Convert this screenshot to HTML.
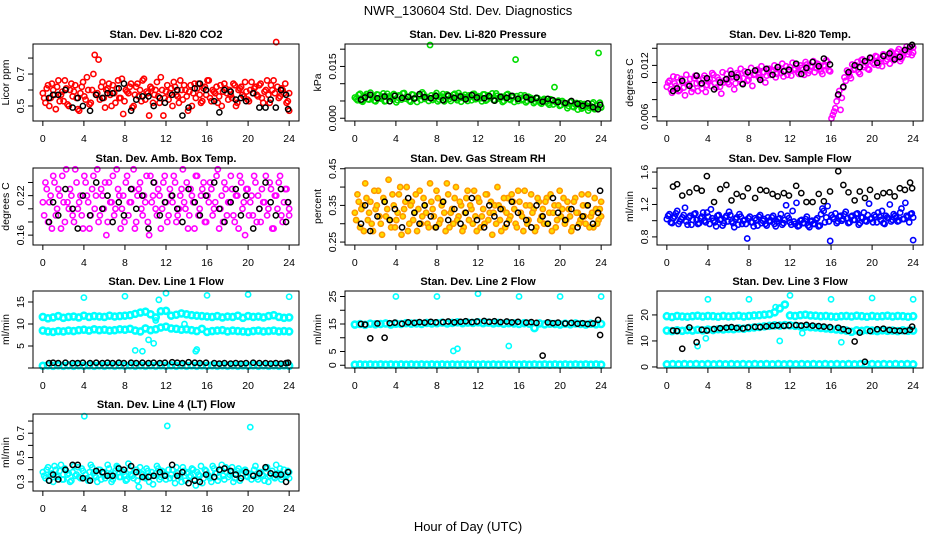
<!DOCTYPE html>
<html><head><meta charset="utf-8">
<style>
html,body{margin:0;padding:0;background:#fff;}
svg{display:block;font-family:"Liberation Sans",Arial,sans-serif;}
</style></head>
<body>
<svg id="chart" width="936" height="540" viewBox="0 0 936 540">
<text x="468" y="15" text-anchor="middle" font-size="13">NWR_130604  Std. Dev. Diagnostics</text>
<text x="468" y="531" text-anchor="middle" font-size="13">Hour of Day (UTC)</text>
</svg>
<script>
const blackHours=[0.6,1.0,1.5,2.2,2.9,3.4,3.9,4.6,5.2,5.8,6.3,6.8,7.4,7.9,8.6,9.1,9.7,10.3,10.8,11.4,11.9,12.6,13.1,13.6,14.2,14.8,15.3,15.9,16.7,17.2,17.7,18.3,18.8,19.3,19.8,20.5,21.1,21.7,22.2,22.7,23.2,23.7,23.9];
const xTicks=[0,4,8,12,16,20,24];

const co2A=[0.58,0.52,0.63,0.55,0.60,0.48,0.66,0.57,0.53,0.61,0.50,0.64,0.59,0.55,0.47,0.62,0.56,0.68,0.51,0.60,0.82,0.58,0.54,0.65,0.49,0.61,0.57,0.63,0.52,0.66,0.55,0.45,0.60,0.58,0.64,0.50,0.62,0.56,0.53,0.67,0.59,0.44,0.61,0.57,0.65,0.52,0.60,0.55,0.63,0.58,0.50,0.62,0.56,0.66,0.54,0.60,0.47,0.63,0.58,0.55,0.64,0.52,0.61,0.57,0.66,0.53,0.59,0.62,0.56,0.50,0.64,0.58,0.60,0.55,0.63,0.52,0.61,0.57,0.65,0.54,0.60,0.58,0.62,0.56,0.64,0.52,0.60,0.57,0.63,0.66,0.90,0.55,0.61,0.58,0.52,0.47];
const co2B=[0.55,0.61,0.50,0.64,0.57,0.62,0.53,0.59,0.66,0.51,0.60,0.56,0.63,0.48,0.58,0.65,0.54,0.60,0.52,0.70,0.57,0.79,0.62,0.55,0.60,0.64,0.50,0.58,0.61,0.55,0.67,0.53,0.59,0.62,0.49,0.57,0.64,0.60,0.66,0.54,0.58,0.62,0.52,0.60,0.56,0.68,0.44,0.59,0.54,0.61,0.65,0.57,0.52,0.60,0.63,0.56,0.59,0.50,0.64,0.61,0.57,0.53,0.62,0.66,0.55,0.60,0.58,0.52,0.63,0.59,0.61,0.54,0.57,0.64,0.50,0.60,0.62,0.56,0.59,0.53,0.65,0.61,0.57,0.63,0.55,0.59,0.66,0.52,0.60,0.58,0.62,0.56,0.60,0.64,0.53,0.58];
const co2Black=[0.55,0.57,0.57,0.60,0.49,0.55,0.50,0.47,0.57,0.55,0.58,0.58,0.61,0.64,0.47,0.54,0.56,0.56,0.50,0.55,0.52,0.57,0.60,0.44,0.49,0.61,0.64,0.60,0.53,0.46,0.60,0.59,0.54,0.55,0.53,0.58,0.49,0.49,0.54,0.49,0.60,0.57,0.48];

const presGreen=[6.0,5.2,7.1,4.8,6.5,5.5,7.4,6.1,4.9,6.8,5.7,7.2,5.0,6.3,5.9,7.0,4.6,6.6,5.4,7.3,6.2,5.1,6.9,5.8,4.7,6.4,7.5,5.6,6.0,21.2,5.3,6.7,4.9,6.1,7.0,5.5,6.4,5.0,6.8,5.7,7.3,4.8,6.2,5.9,6.6,5.2,7.1,5.6,6.3,4.9,6.9,5.4,6.0,7.2,5.1,6.5,5.8,4.7,6.1,7.0,5.3,6.4,17.0,5.0,6.7,5.5,4.6,6.2,5.8,4.4,5.9,5.0,4.2,5.6,4.8,3.9,5.3,9.0,4.5,3.6,5.0,4.1,2.9,4.7,3.4,4.0,2.5,4.3,3.1,3.8,2.2,3.5,4.6,2.8,18.9,3.3];
const presGreen2=[5.6,6.8,5.0,6.2,7.0,5.4,6.6,5.1,6.9,5.8,6.3,4.9,7.1,6.0,5.5,6.7,5.2,6.4,7.2,5.7,6.1,4.8,6.8,5.9,6.5,5.3,7.0,6.2,5.0,6.6,5.8,7.3,5.4,6.3,4.9,6.9,5.6,6.1,7.1,5.2,6.5,5.9,6.8,5.0,6.2,7.0,5.5,6.4,5.8,6.9,5.1,6.6,6.0,5.3,7.2,5.7,6.3,5.0,6.8,5.5,6.1,4.7,6.4,5.9,5.2,6.6,5.0,6.0,5.4,4.8,5.8,4.5,5.3,4.9,4.3,5.5,4.0,4.7,5.1,3.8,4.6,4.2,3.5,4.9,3.2,4.4,3.9,2.8,4.1,3.6,3.0,4.2,2.6,3.7,4.5,3.1];
const presBlack=[5.4,6.0,6.8,5.8,6.3,4.9,6.5,5.9,6.2,5.7,7.0,6.1,5.8,6.4,5.2,6.6,5.9,6.3,5.5,6.7,6.0,5.8,6.4,5.1,6.2,5.9,6.5,5.6,6.1,5.4,5.9,4.8,5.6,5.2,4.7,4.4,5.0,4.2,3.6,4.3,3.2,2.6,3.9];

const tempMag=[9.5,10.2,8.8,9.9,10.6,9.1,10.0,8.5,9.7,10.4,9.3,10.8,9.0,9.8,10.5,8.9,10.1,9.6,10.9,9.4,10.3,8.7,10.0,11.0,9.8,10.6,9.2,11.1,10.4,9.9,11.3,10.2,10.8,9.6,11.0,11.5,10.5,11.2,10.0,11.6,10.9,11.4,10.6,11.8,11.1,10.7,11.9,11.3,10.8,11.5,12.0,11.0,11.7,10.9,12.1,11.4,11.8,11.2,12.2,11.6,11.0,11.9,12.4,11.3,6.2,7.0,8.5,6.8,9.4,10.2,11.0,10.5,11.5,12.0,11.2,12.6,11.8,12.3,11.5,12.8,12.1,13.0,12.4,11.9,13.2,12.7,12.2,13.4,12.9,13.6,12.5,13.1,13.8,13.3,14.0,13.5];
const tempMag2=[10.0,9.2,10.7,9.6,9.0,10.4,9.4,10.9,9.8,8.9,10.5,9.9,10.2,9.3,10.8,9.7,10.4,11.1,9.9,10.6,9.5,11.2,10.3,10.0,11.4,10.7,9.9,10.9,11.6,10.5,11.0,10.3,11.7,10.9,11.4,10.6,11.9,11.2,10.8,11.6,11.3,12.0,11.0,11.5,12.2,11.4,10.9,11.8,12.3,11.6,11.2,12.0,11.5,12.4,11.1,11.9,12.5,11.7,12.1,11.3,12.0,12.6,11.4,5.8,6.6,7.8,9.0,8.2,10.6,11.4,10.8,12.1,11.6,12.4,11.0,12.7,12.0,11.6,12.9,12.3,13.1,12.0,12.8,13.3,12.5,13.0,13.6,12.6,13.4,13.9,12.8,13.5,14.2,13.6,13.2,14.1];
const tempBlack=[9.0,9.3,10.2,9.6,10.8,9.9,10.5,9.2,10.0,10.4,11.0,10.6,9.8,11.2,11.4,10.3,11.6,10.9,11.8,11.3,11.5,12.2,11.0,11.7,12.4,11.9,12.8,12.1,8.6,9.5,11.2,12.0,11.8,12.5,12.9,12.3,13.1,13.4,12.7,13.0,13.8,14.2,14.4];

const ambMag=[0.21,0.24,0.18,0.22,0.25,0.19,0.23,0.17,0.21,0.26,0.20,0.22,0.18,0.24,0.21,0.19,0.25,0.22,0.17,0.23,0.20,0.26,0.19,0.22,0.24,0.18,0.21,0.25,0.20,0.23,0.17,0.22,0.24,0.19,0.21,0.26,0.18,0.23,0.20,0.22,0.25,0.16,0.21,0.24,0.19,0.22,0.20,0.25,0.18,0.23,0.21,0.24,0.19,0.22,0.26,0.20,0.17,0.23,0.21,0.25,0.19,0.22,0.24,0.18,0.21,0.23,0.20,0.25,0.17,0.22,0.24,0.19,0.21,0.23,0.18,0.22,0.25,0.20,0.16,0.23,0.21,0.19,0.24,0.22,0.18,0.21,0.25,0.20,0.23,0.17,0.22,0.24,0.19,0.21,0.23,0.20];
const ambMag2=[0.19,0.23,0.21,0.17,0.24,0.20,0.22,0.25,0.18,0.21,0.23,0.19,0.26,0.20,0.22,0.17,0.24,0.21,0.19,0.25,0.22,0.18,0.23,0.20,0.16,0.24,0.21,0.19,0.26,0.22,0.20,0.18,0.25,0.21,0.23,0.17,0.22,0.24,0.19,0.21,0.18,0.25,0.22,0.20,0.23,0.17,0.24,0.21,0.19,0.22,0.25,0.18,0.20,0.23,0.21,0.24,0.19,0.22,0.17,0.25,0.20,0.23,0.18,0.22,0.24,0.19,0.21,0.26,0.20,0.18,0.23,0.21,0.25,0.19,0.22,0.17,0.24,0.21,0.23,0.19,0.22,0.25,0.18,0.20,0.23,0.21,0.19,0.24,0.17,0.22,0.20,0.25,0.18,0.23,0.21,0.19];
const ambBlack=[0.18,0.21,0.19,0.23,0.20,0.17,0.22,0.19,0.24,0.20,0.22,0.18,0.21,0.19,0.23,0.20,0.22,0.17,0.24,0.19,0.21,0.22,0.20,0.18,0.23,0.21,0.19,0.22,0.24,0.20,0.18,0.21,0.23,0.19,0.22,0.17,0.20,0.24,0.21,0.19,0.23,0.18,0.21];

const rhOrange=[0.33,0.38,0.29,0.35,0.41,0.31,0.36,0.28,0.34,0.39,0.30,0.37,0.32,0.42,0.29,0.35,0.31,0.38,0.27,0.34,0.40,0.30,0.36,0.33,0.28,0.39,0.32,0.35,0.30,0.41,0.34,0.29,0.37,0.31,0.36,0.28,0.38,0.33,0.30,0.40,0.32,0.35,0.29,0.37,0.31,0.34,0.39,0.28,0.36,0.32,0.30,0.38,0.33,0.27,0.35,0.40,0.31,0.34,0.29,0.37,0.32,0.36,0.30,0.39,0.33,0.28,0.35,0.31,0.38,0.34,0.29,0.36,0.32,0.30,0.37,0.33,0.28,0.35,0.31,0.39,0.34,0.30,0.36,0.32,0.29,0.37,0.33,0.31,0.35,0.30,0.38,0.32,0.29,0.34,0.31,0.36];
const rhOrange2=[0.31,0.36,0.34,0.28,0.37,0.33,0.30,0.39,0.35,0.32,0.27,0.36,0.34,0.31,0.38,0.29,0.33,0.40,0.32,0.36,0.28,0.35,0.31,0.38,0.34,0.30,0.37,0.33,0.29,0.36,0.32,0.39,0.30,0.35,0.33,0.41,0.29,0.34,0.37,0.31,0.36,0.28,0.33,0.39,0.35,0.30,0.32,0.37,0.29,0.34,0.38,0.31,0.36,0.33,0.30,0.35,0.28,0.37,0.33,0.31,0.38,0.34,0.29,0.36,0.32,0.39,0.30,0.35,0.33,0.28,0.37,0.31,0.34,0.36,0.30,0.38,0.33,0.29,0.35,0.32,0.37,0.31,0.34,0.28,0.36,0.33,0.30,0.38,0.32,0.35,0.29,0.33,0.37,0.30,0.34,0.32];
const rhBlack=[0.30,0.35,0.28,0.32,0.36,0.31,0.34,0.29,0.37,0.33,0.30,0.35,0.32,0.29,0.36,0.31,0.34,0.30,0.33,0.37,0.31,0.29,0.35,0.32,0.34,0.30,0.36,0.33,0.31,0.29,0.35,0.32,0.30,0.37,0.33,0.31,0.34,0.29,0.32,0.35,0.30,0.33,0.39];

const flowBlue=[1.02,1.08,0.97,1.05,1.12,0.99,1.04,1.16,0.95,1.06,1.01,1.09,0.96,1.03,1.10,0.98,1.05,1.14,1.00,0.93,1.07,1.02,0.97,1.06,1.11,0.99,0.92,1.04,1.08,0.96,1.01,0.78,1.05,0.98,1.03,0.94,1.07,1.00,0.96,1.04,0.99,1.06,0.93,1.02,1.08,0.97,1.19,1.03,0.95,0.99,1.22,0.94,1.01,0.97,1.05,0.92,1.00,0.96,1.03,0.94,1.15,0.98,1.18,0.75,1.04,1.09,0.99,1.06,1.02,1.11,0.97,1.05,1.01,1.08,0.95,1.04,1.10,0.99,1.21,1.03,1.07,0.98,1.05,1.12,0.96,1.04,1.20,1.01,1.06,0.99,1.10,1.02,1.22,1.05,1.08,0.76];
const flowBlue2=[1.06,0.98,1.03,1.09,0.96,1.02,1.07,0.99,1.04,0.95,1.08,1.01,0.97,1.05,1.00,1.10,0.96,1.03,0.98,1.06,1.01,0.94,1.04,0.99,1.07,0.97,1.02,0.95,1.05,1.00,0.96,1.03,0.98,0.93,1.01,1.05,0.97,1.02,0.94,1.00,1.04,0.96,0.99,1.03,0.95,1.01,1.06,0.98,1.12,0.96,0.93,1.00,0.97,1.02,0.94,0.99,0.96,1.01,0.93,1.08,1.12,1.04,0.99,1.07,1.02,0.97,1.05,1.00,1.08,1.03,0.98,1.06,1.01,1.09,0.97,1.04,1.00,1.07,1.02,0.98,1.05,1.10,1.01,0.97,1.06,1.03,0.99,1.08,1.04,1.00,1.15,1.02,1.06,0.98,1.09,1.04];
const flowBlack=[1.42,1.45,1.31,1.35,1.40,1.37,1.55,1.23,1.39,1.44,1.25,1.33,1.30,1.40,1.28,1.38,1.37,1.33,1.30,1.34,1.31,1.43,1.34,1.23,1.23,1.33,1.24,1.36,1.61,1.44,1.35,1.25,1.36,1.28,1.38,1.30,1.34,1.35,1.30,1.40,1.38,1.47,1.40];

const l1Hi=[11.6,11.3,11.5,11.8,11.4,11.6,11.7,11.5,11.9,11.6,11.8,11.7,11.6,11.9,11.7,11.8,11.9,12.0,12.3,12.6,12.8,12.2,11.5,12.9,13.0,11.9,12.1,12.4,12.2,12.0,11.9,11.8,11.7,11.6,11.8,11.5,11.7,11.6,11.9,11.4,11.8,11.6,11.7,11.5,11.8,12.0,11.6,11.4,11.5];
const l1Lo=[8.5,8.3,8.2,8.4,8.3,8.5,8.4,8.6,8.7,8.5,8.8,8.6,8.7,8.5,8.6,8.8,8.7,8.9,8.5,8.3,9.0,8.6,8.8,9.2,9.4,9.0,8.9,8.7,8.8,8.6,8.4,8.9,8.2,8.4,8.5,8.6,8.3,8.5,8.4,8.3,8.2,8.4,8.5,8.3,8.4,8.5,8.3,8.4,8.3];
const l1Zero=[0.5,0.6,0.5,0.6,0.5,0.6,0.5,0.6,0.5,0.6,0.5,0.6,0.5,0.6,0.5,0.6,0.5,0.6,0.5,0.6,0.5,0.6,0.5,0.6,0.5,0.6,0.5,0.6,0.5,0.6,0.5,0.6,0.5,0.6,0.5,0.6,0.5,0.6,0.5,0.6,0.5,0.6,0.5,0.6,0.5,0.6,0.5,0.6,0.5];
const l1OutHours=[4,8,12,16,20,24,9,9.7,10.3,10.8,11.3,11.5,11.0,14.9,15.0,13.8];
const l1OutVals=[16,16.3,17,16.5,16.7,16.2,4.0,3.8,6.4,5.6,15.5,13.0,10.8,3.8,4.2,10.0];
const l1Black=[1.1,1.2,1.1,1.2,1.1,1.1,1.2,1.1,1.2,1.1,1.2,1.1,1.2,1.1,1.2,1.1,1.2,1.1,1.2,1.1,1.2,1.3,1.2,1.1,1.3,1.2,1.1,1.2,1.1,1.0,1.1,1.0,1.1,1.0,1.1,1.2,1.1,1.1,1.0,1.1,1.0,1.1,1.2];

const l2Hi=[14.8,15.0,14.7,15.1,14.9,15.0,15.2,14.8,15.1,15.0,15.3,15.1,15.2,15.0,15.4,15.2,15.3,15.5,15.2,15.4,15.6,15.3,15.5,15.4,15.6,15.3,15.5,15.2,15.4,15.1,15.3,15.2,15.0,15.3,15.1,13.5,15.2,14.9,15.1,15.0,14.8,15.1,14.9,15.2,15.0,14.8,15.1,14.9,15.0];
const l2Zero=[0.2,0.3,0.2,0.3,0.2,0.3,0.2,0.3,0.2,0.3,0.2,0.3,0.2,0.3,0.2,0.3,0.2,0.3,0.2,0.3,0.2,0.3,0.2,0.3,0.2,0.3,0.2,0.3,0.2,0.3,0.2,0.3,0.2,0.3,0.2,0.3,0.2,0.3,0.2,0.3,0.2,0.3,0.2,0.3,0.2,0.3,0.2,0.3,0.2];
const l2OutHours=[4,8,12,16,20,24,9.6,10.0,15.0];
const l2OutVals=[25,25,26,25,25,25,5.2,6.0,7.0];
const l2Black=[15.0,14.8,9.8,15.2,10.0,15.3,15.5,15.1,15.6,15.4,15.7,15.5,15.8,15.6,15.7,15.9,15.6,15.8,16.0,15.7,15.9,16.1,15.8,16.0,15.7,15.9,15.6,15.8,15.5,15.7,15.4,3.5,15.6,15.3,15.5,15.2,15.4,15.1,15.3,15.0,15.2,16.5,11.0];

const l3Hi=[19.5,19.2,19.6,19.4,19.3,19.5,19.7,19.4,19.6,19.5,19.3,19.6,19.4,19.5,19.7,19.4,19.6,19.8,19.9,20.1,20.3,21.0,22.5,24.0,19.8,19.6,19.9,20.1,19.8,19.7,19.5,19.6,19.4,19.3,19.5,19.6,19.4,19.7,19.5,19.3,19.6,19.4,19.5,19.7,19.4,19.6,19.5,19.3,19.5];
const l3Mid=[14.0,13.8,14.1,13.9,14.2,14.0,14.3,14.1,14.4,14.2,14.5,14.4,14.6,14.5,14.8,14.7,15.0,15.2,15.4,15.6,15.8,16.0,15.9,16.1,16.0,15.8,15.6,15.5,15.3,15.2,15.0,14.8,14.6,14.4,14.2,14.0,13.5,14.1,13.9,14.2,14.0,13.8,14.1,13.9,14.0,13.8,14.1,13.9,14.0];
const l3Zero=[1.0,1.1,1.0,1.1,1.0,1.1,1.0,1.1,1.0,1.1,1.0,1.1,1.0,1.1,1.0,1.1,1.0,1.1,1.0,1.1,1.0,1.1,1.0,1.1,1.0,1.1,1.0,1.1,1.0,1.1,1.0,1.1,1.0,1.1,1.0,1.1,1.0,1.1,1.0,1.1,1.0,1.1,1.0];
const l3OutHours=[4,8,12,16,20,24,3.0,3.8,11.0,10.6,13.2,17.0];
const l3OutVals=[26,26,27.5,26,26.5,26,8.0,11.0,10.0,23,13.0,9.5];
const l3Black=[14.0,13.8,7.0,15.2,9.5,14.3,14.0,14.6,14.9,15.1,15.3,15.0,14.8,15.2,15.4,15.3,15.6,15.8,16.0,15.8,16.0,16.1,15.9,16.2,15.9,15.7,15.5,15.3,15.1,14.5,13.9,9.8,13.2,2.0,13.8,14.5,14.7,14.2,14.0,13.9,13.8,14.3,15.5];

const l4Cyan=[0.38,0.33,0.42,0.36,0.30,0.40,0.35,0.44,0.32,0.39,0.37,0.31,0.43,0.36,0.34,0.41,0.84,0.33,0.38,0.42,0.35,0.30,0.40,0.37,0.33,0.44,0.36,0.32,0.39,0.42,0.34,0.38,0.31,0.45,0.36,0.33,0.40,0.26,0.37,0.34,0.41,0.30,0.38,0.35,0.43,0.32,0.39,0.36,0.76,0.33,0.40,0.29,0.37,0.34,0.42,0.31,0.38,0.35,0.40,0.27,0.36,0.43,0.33,0.39,0.35,0.30,0.41,0.37,0.34,0.44,0.32,0.38,0.36,0.42,0.33,0.39,0.31,0.37,0.40,0.34,0.75,0.36,0.43,0.32,0.38,0.35,0.41,0.30,0.37,0.34,0.44,0.36,0.32,0.40,0.35,0.38];
const l4Cyan2=[0.35,0.40,0.31,0.37,0.43,0.34,0.39,0.32,0.41,0.36,0.30,0.38,0.35,0.42,0.33,0.39,0.36,0.31,0.44,0.37,0.34,0.40,0.32,0.38,0.35,0.41,0.30,0.37,0.43,0.34,0.39,0.36,0.32,0.40,0.35,0.38,0.31,0.42,0.36,0.33,0.39,0.35,0.28,0.37,0.41,0.34,0.38,0.32,0.40,0.36,0.33,0.42,0.35,0.30,0.39,0.37,0.34,0.41,0.32,0.38,0.35,0.29,0.40,0.36,0.33,0.43,0.37,0.31,0.39,0.35,0.42,0.34,0.38,0.30,0.36,0.41,0.33,0.39,0.35,0.37,0.32,0.40,0.34,0.38,0.36,0.31,0.42,0.35,0.39,0.33,0.37,0.41,0.34,0.36,0.39,0.33];
const l4Black=[0.31,0.36,0.32,0.40,0.44,0.44,0.33,0.31,0.39,0.38,0.35,0.35,0.41,0.40,0.43,0.38,0.34,0.34,0.35,0.38,0.35,0.44,0.35,0.38,0.29,0.31,0.30,0.36,0.34,0.40,0.41,0.39,0.36,0.33,0.38,0.35,0.37,0.42,0.37,0.36,0.36,0.30,0.38];

const NS="http://www.w3.org/2000/svg";
const svg=document.getElementById('chart');
function mk(tag,attrs,parent){const e=document.createElementNS(NS,tag);for(const k in attrs)e.setAttribute(k,attrs[k]);parent.appendChild(e);return e;}
function evenHours(n){const h=[];for(let i=0;i<n;i++)h.push(i*24/(n-1));return h;}

const colX=[33,345,657], rowY=[44,168,291,414], W=266, H=77;
const panels=[
 {name:'co2',title:'Stan. Dev. Li-820 CO2',ylab:'Licor ppm',c:0,r:0,dom:[0.406,0.888],ticks:[0.5,0.6,0.7,0.8],labs:['0.5','','0.7',''],
  series:[{v:co2A,col:'#ff0000'},{v:co2B,col:'#ff0000',off:0.125}],black:co2Black},
 {name:'pressure',title:'Stan. Dev. Li-820 Pressure',ylab:'kPa',c:1,r:0,dom:[-0.8,21.5],ticks:[0,5,10,15,20],labs:['0.000','','','0.015',''],
  series:[{v:presGreen,col:'#00dd00'},{v:presGreen2,col:'#00dd00',off:0.125}],black:presBlack},
 {name:'temp',title:'Stan. Dev. Li-820 Temp.',ylab:'degrees C',c:2,r:0,dom:[5.5,14.5],ticks:[6,8,10,12,14],labs:['0.006','','','0.012',''],
  series:[{v:tempMag,col:'#ff00ff'},{v:tempMag2,col:'#ff00ff',off:0.125}],black:tempBlack},
 {name:'amb-box',title:'Stan. Dev. Amb. Box Temp.',ylab:'degrees C',c:0,r:1,dom:[0.145,0.262],ticks:[0.16,0.18,0.20,0.22,0.24],labs:['0.16','','','0.22',''],
  series:[{v:ambMag,col:'#ff00ff'},{v:ambMag2,col:'#ff00ff',off:0.125}],black:ambBlack},
 {name:'rh',title:'Stan. Dev. Gas Stream RH',ylab:'percent',c:1,r:1,dom:[0.242,0.452],ticks:[0.25,0.30,0.35,0.40,0.45],labs:['0.25','','0.35','','0.45'],
  series:[{v:rhOrange,col:'#ff9900',fill:'#ffdd00'},{v:rhOrange2,col:'#ff9900',fill:'#ffdd00',off:0.125}],black:rhBlack},
 {name:'sample-flow',title:'Stan. Dev. Sample Flow',ylab:'ml/min',c:2,r:1,dom:[0.70,1.65],ticks:[0.8,1.0,1.2,1.4,1.6],labs:['0.8','','1.2','','1.6'],
  series:[{v:flowBlue,col:'#0000ff'},{v:flowBlue2,col:'#0000ff',off:0.125}],black:flowBlack},
 {name:'line1',title:'Stan. Dev. Line 1 Flow',ylab:'ml/min',c:0,r:2,dom:[0,17.5],ticks:[0,5,10,15],labs:['','5','10','15'],
  series:[{v:l1Hi,col:'#00ffff',band:1},{v:l1Lo,col:'#00ffff',band:1},{v:l1Zero,col:'#00ffff',band:1},{v:l1OutVals,h:l1OutHours,col:'#00ffff'}],black:l1Black},
 {name:'line2',title:'Stan. Dev. Line 2 Flow',ylab:'ml/min',c:1,r:2,dom:[-1,27],ticks:[0,5,10,15,20,25],labs:['0','5','','15','','25'],
  series:[{v:l2Hi,col:'#00ffff',band:1},{v:l2Zero,col:'#00ffff',band:1},{v:l2OutVals,h:l2OutHours,col:'#00ffff'}],black:l2Black},
 {name:'line3',title:'Stan. Dev. Line 3 Flow',ylab:'ml/min',c:2,r:2,dom:[-0.4,29.2],ticks:[0,10,20],labs:['0','10','20'],
  series:[{v:l3Hi,col:'#00ffff',band:1},{v:l3Mid,col:'#00ffff',band:1},{v:l3Zero,col:'#00ffff',band:1},{v:l3OutVals,h:l3OutHours,col:'#00ffff'}],black:l3Black},
 {name:'line4',title:'Stan. Dev. Line 4 (LT) Flow',ylab:'ml/min',c:0,r:3,dom:[0.225,0.858],ticks:[0.3,0.4,0.5,0.6,0.7,0.8],labs:['0.3','','0.5','','0.7',''],
  series:[{v:l4Cyan,col:'#00ffff'},{v:l4Cyan2,col:'#00ffff',off:0.125}],black:l4Black}
];

panels.forEach(p=>{
  const x0=colX[p.c], y0=rowY[p.r];
  const g=mk('g',{},svg);
  
  
  const xs=h=>x0+(h+0.96)/25.92*W;
  const ys=v=>y0+H-(v-p.dom[0])/(p.dom[1]-p.dom[0])*H;
  const t=mk('text',{x:x0+W/2,y:y0-6,'text-anchor':'middle','font-size':11,'font-weight':'bold'},g);
  t.textContent=p.title;
  
  
  const yl=mk('text',{x:0,y:0,'text-anchor':'middle','font-size':10.5,transform:`translate(${x0-24},${y0+H/2}) rotate(-90)`},g);
  yl.textContent=p.ylab;
  
  
  const mg=mk('g',{},g);
  
  
  p.series.forEach(s=>{
    const hrs=s.h||evenHours(s.v.length);
    s.v.forEach((v,i)=>{
      const hh=Math.min(24,hrs[i]+(s.off||0));
      const c=mk('circle',{cx:xs(hh),cy:ys(v),r:s.band?3:2.6,fill:s.fill||'none',stroke:s.col,'stroke-width':s.band?2.6:1.6},mg);
      
      
    });
  });
  p.black.forEach((v,i)=>{
    const c=mk('circle',{cx:xs(blackHours[i]),cy:ys(v),r:2.6,fill:'none',stroke:'#000','stroke-width':1.5},mg);
    
    
  });
  const box=mk('rect',{x:x0,y:y0,width:W,height:H,fill:'none',stroke:'#000','stroke-width':1},g);
  
  
  const xa=mk('g',{},g);
  
  
  mk('line',{x1:xs(0),x2:xs(24),y1:y0+H,y2:y0+H,stroke:'#000'},xa);
  xTicks.forEach(tk=>{
    mk('line',{x1:xs(tk),x2:xs(tk),y1:y0+H,y2:y0+H+5,stroke:'#000'},xa);
    const tl=mk('text',{x:xs(tk),y:y0+H+21,'text-anchor':'middle','font-size':10.5},xa);
    tl.textContent=tk;
    
    
  });
  const ya=mk('g',{},g);
  
  
  mk('line',{x1:x0,x2:x0,y1:ys(p.ticks[0]),y2:ys(p.ticks[p.ticks.length-1]),stroke:'#000'},ya);
  p.ticks.forEach((tk,i)=>{
    mk('line',{x1:x0-5,x2:x0,y1:ys(tk),y2:ys(tk),stroke:'#000'},ya);
    if(p.labs[i]){
      const tl=mk('text',{x:0,y:0,'text-anchor':'middle','font-size':10.5,transform:`translate(${x0-9},${ys(tk)}) rotate(-90)`},ya);
      tl.textContent=p.labs[i];
      
      
    }
  });
});
</script>
</body></html>
